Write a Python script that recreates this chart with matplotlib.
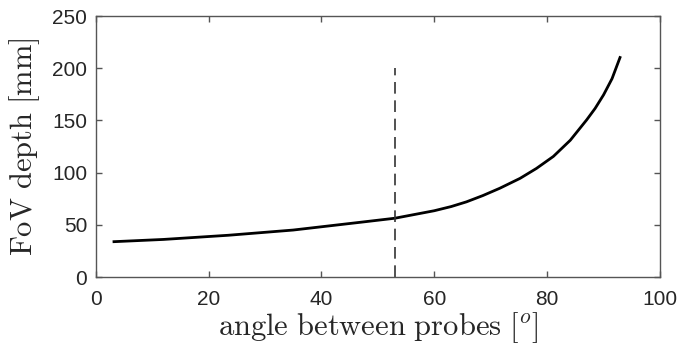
import matplotlib
matplotlib.use("Agg")
import matplotlib.pyplot as plt

angle = [3, 12, 23.5, 35, 47, 53, 60, 63, 65.7, 68.6, 71.6, 75.2, 78.1, 81.1, 84.1, 87.0, 88.5, 90.0, 91.5, 93.0]
depth = [33.8, 36, 40, 45, 52.5, 56.3, 63.5, 67.5, 72, 78, 85, 94.5, 104, 115.5, 131, 150.5, 161.5, 174.5, 190, 211.5]
marker_angle = 53
marker_top = 200
xticks = [0, 20, 40, 60, 80, 100]
yticks = [0, 50, 100, 150, 200, 250]

plt.rcParams['mathtext.fontset'] = 'cm'
plt.rcParams['font.family'] = ['Liberation Sans', 'DejaVu Sans']

fig = plt.figure(figsize=(6.8, 3.52), dpi=100)
ax = fig.add_axes([0.1407, 0.213, 0.8299, 0.7415])
ax.plot(angle, depth, color='black', lw=2.0, solid_capstyle='butt')
ax.plot([marker_angle, marker_angle], [0, marker_top], color='#333333', lw=1.2,
        dashes=(7, 4))
ax.set_xlim(0, 100)
ax.set_ylim(0, 250)
ax.set_xticks(xticks)
ax.set_yticks(yticks)
gray = '#262626'
for s in ax.spines.values():
    s.set_color('#555555')
    s.set_linewidth(1.0)
ax.tick_params(direction='in', top=True, right=True, length=4, width=1.0,
               colors='#555555', labelcolor=gray, labelsize=15)
ax.tick_params(axis='x', pad=9)
ax.tick_params(axis='y', pad=6)
ax.set_xlabel(r'$\mathrm{angle\ between\ probes}\ [^o]$', fontsize=22, color=gray, labelpad=1)
ax.set_ylabel(r'$\mathrm{FoV\ depth\ [mm]}$', fontsize=22, color=gray, labelpad=7)
fig.savefig('out.png', dpi=100)
